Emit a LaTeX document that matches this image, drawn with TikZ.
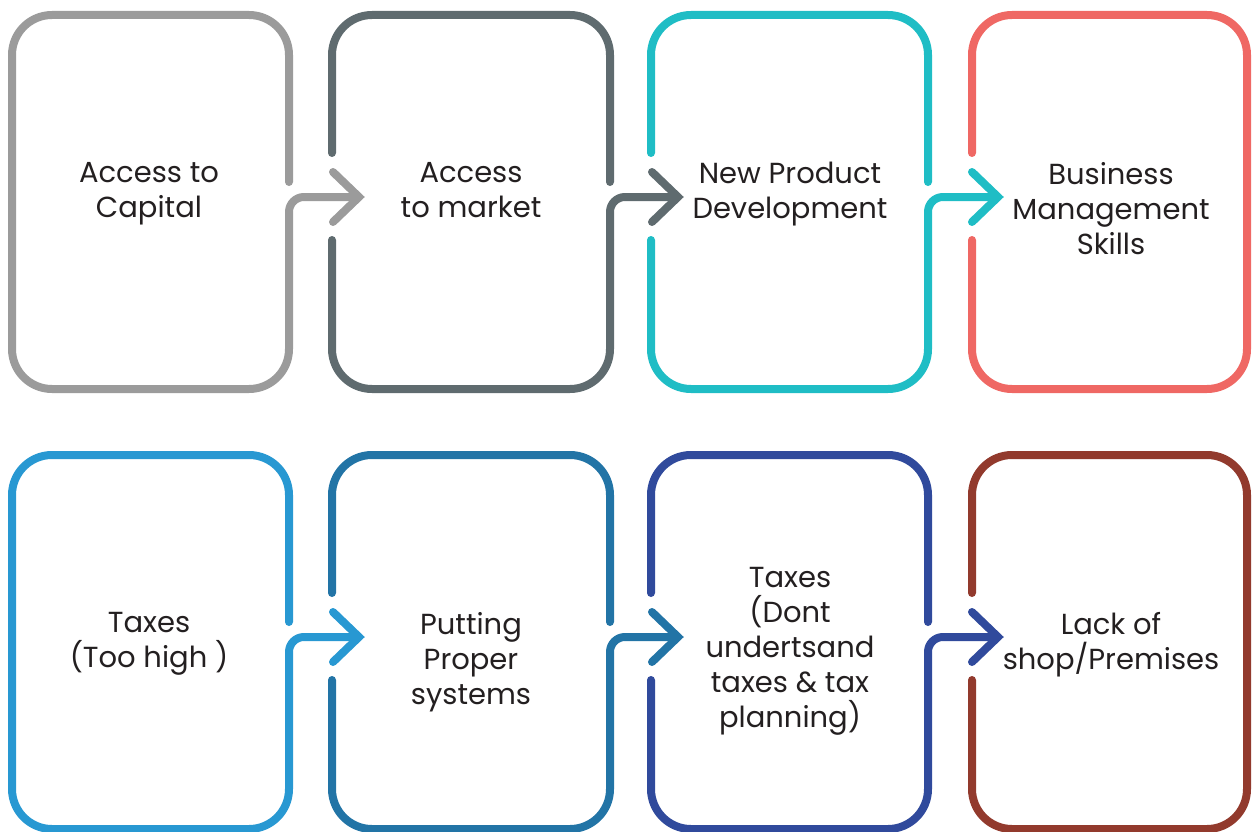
\documentclass[tikz,border=0pt]{standalone}
\usepackage{fontspec}
\setmainfont{Poppins}
\definecolor{c1}{HTML}{9B9B9B}
\definecolor{c2}{HTML}{5F6B6F}
\definecolor{c3}{HTML}{1FBDC5}
\definecolor{c4}{HTML}{EF6864}
\definecolor{c5}{HTML}{2898D2}
\definecolor{c6}{HTML}{2274A6}
\definecolor{c7}{HTML}{304A9C}
\definecolor{c8}{HTML}{923A2D}
\definecolor{txt}{HTML}{231F20}
\begin{document}
\begin{tikzpicture}[x=1pt,y=-1pt]
    \tikzstyle{frame}=[line width=8pt, line cap=round, rounded corners=40pt]
    \tikzstyle{link}=[line width=8pt, line cap=round, rounded corners=15pt]
    \tikzstyle{tip}=[line width=8pt, line cap=round, line join=miter]
    \tikzstyle{boxtext}=[anchor=north, inner sep=0pt, align=center, text=txt, font=\fontsize{29}{35}\selectfont]
    \useasboundingbox (0,0) rectangle (1253,832);
    % arrow heads
    \coordinate (a1) at (359,197);
    \coordinate (a2) at (678,197);
    \coordinate (a3) at (998,197);
    \coordinate (a5) at (359,637);
    \coordinate (a6) at (678,637);
    \coordinate (a7) at (998,637);
    % top row
    \draw[frame, c1] (289,182) -- (289,15) -- (12,15) -- (12,389) -- (289,389) -- (289,240);
    \draw[link, c1] (289,240) -- (289,197) -- (a1);
    \draw[tip, c1] (333,172) -- (a1) -- (333,222);
    \draw[frame, c2] (610,182) -- (610,15) -- (332,15) -- (332,153);
    \draw[frame, c2] (332,240) -- (332,389) -- (610,389) -- (610,240);
    \draw[link, c2] (610,240) -- (610,197) -- (a2);
    \draw[tip, c2] (652,172) -- (a2) -- (652,222);
    \draw[frame, c3] (928,182) -- (928,15) -- (651,15) -- (651,153);
    \draw[frame, c3] (651,240) -- (651,389) -- (928,389) -- (928,240);
    \draw[link, c3] (928,240) -- (928,197) -- (a3);
    \draw[tip, c3] (972,172) -- (a3) -- (972,222);
    \draw[frame, c4] (972,153) -- (972,15) -- (1247,15) -- (1247,389) -- (972,389) -- (972,240);
    % bottom row
    \draw[frame, c5] (289,622) -- (289,455) -- (12,455) -- (12,829) -- (289,829) -- (289,680);
    \draw[link, c5] (289,680) -- (289,637) -- (a5);
    \draw[tip, c5] (333,612) -- (a5) -- (333,662);
    \draw[frame, c6] (610,622) -- (610,455) -- (332,455) -- (332,593);
    \draw[frame, c6] (332,680) -- (332,829) -- (610,829) -- (610,680);
    \draw[link, c6] (610,680) -- (610,637) -- (a6);
    \draw[tip, c6] (652,612) -- (a6) -- (652,662);
    \draw[frame, c7] (928,622) -- (928,455) -- (651,455) -- (651,593);
    \draw[frame, c7] (651,680) -- (651,829) -- (928,829) -- (928,680);
    \draw[link, c7] (928,680) -- (928,637) -- (a7);
    \draw[tip, c7] (972,612) -- (a7) -- (972,662);
    \draw[frame, c8] (972,593) -- (972,455) -- (1247,455) -- (1247,829) -- (972,829) -- (972,680);
    % texts
    \node[boxtext] (t1) at (149,162) {Access to\\Capital};
    \node[boxtext] (t2) at (471,162) {Access\\to market};
    \node[boxtext] (t3) at (790,162) {New Product\\Development};
    \node[boxtext] (t4) at (1111,162) {Business\\Management\\Skills};
    \node[boxtext] (t5) at (149,612) {Taxes\\(Too high )};
    \node[boxtext] (t6) at (471,612) {Putting\\Proper\\systems};
    \node[boxtext] (t7) at (790,567) {Taxes\\(Dont\\undertsand\\taxes \& tax\\planning)};
    \node[boxtext] (t8) at (1111,612) {Lack of\\shop/Premises};
\end{tikzpicture}
\end{document}
